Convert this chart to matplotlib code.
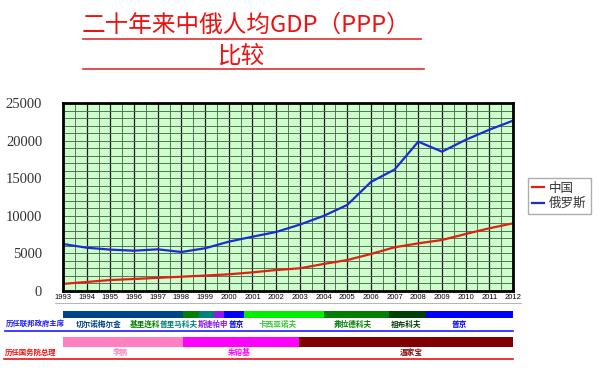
import matplotlib
matplotlib.use("Agg")
import matplotlib.pyplot as plt
from matplotlib.lines import Line2D
from matplotlib.ticker import MultipleLocator

plt.rcParams['font.family'] = ['Noto Sans CJK SC', 'DejaVu Sans']

# data
years = list(range(1993, 2013))
china = [950, 1200, 1460, 1600, 1750, 1900, 2050, 2220, 2480, 2790,
         3020, 3590, 4120, 4920, 5810, 6340, 6780, 7580, 8340, 9000]
russia = [6250, 5760, 5500, 5360, 5540, 5190, 5680, 6560, 7220, 7850,
          8830, 9980, 11440, 14500, 16150, 19860, 18530, 20100, 21450, 22650]

# russian heads of government (start year, bar colour, label x)
ru_names = ["切尔诺梅尔金", "基里连科", "普里马科夫", "斯捷帕申", "普京",
            "卡西亚诺夫", "弗拉德科夫", "祖布科夫", "普京"]
ru_start = [1993, 1998.07, 1998.76, 1999.38, 1999.8, 2000.65, 2004.0, 2006.78, 2008.33]
ru_colors = ['#004488', '#008000', '#008080', '#8a1cf0', '#0000ff',
             '#00ee00', '#008000', '#004000', '#0000ff']
ru_text_colors = ['#004488', '#008000', '#008080', '#8a1cf0', '#0000ff',
                  '#33cc33', '#008000', '#004000', '#0000ff']
ru_label_x = [1994.5, 1996.46, 1997.9, 1999.33, 2000.33, 2002.08, 2005.25, 2007.5, 2009.72]

# chinese premiers
cn_names = ["李鹏", "朱镕基", "温家宝"]
cn_start = [1993, 1998.07, 2002.97]
cn_colors = ['#ff80c0', '#ff00ff', '#800000']
cn_label_x = [1995.44, 2000.43, 2007.7]


def fx(x):
    return x / 600.0


def fy(y):
    return 1 - y / 370.0


fig = plt.figure(figsize=(6, 3.7), dpi=100)

# title + underlines
fig.text(fx(246), fy(25), "二十年来中俄人均GDP（PPP）", fontsize=17, color='#ee1111',
         ha='center', va='center', weight='medium')
fig.text(fx(242), fy(56), "比较", fontsize=17, color='#ee1111', ha='center', va='center',
         weight='medium')
fig.add_artist(Line2D([fx(83), fx(421)], [fy(39), fy(39)], color='#e03030', lw=1.2))
fig.add_artist(Line2D([fx(83), fx(424)], [fy(68.5), fy(68.5)], color='#e03030', lw=1.2))

# main chart
ax = fig.add_axes([fx(63), fy(291), fx(513) - fx(63), fy(103) - fy(291)])
ax.set_facecolor('#ccffcc')
ax.plot(years, china, color='#dd2211', lw=1.6, label='中国')
ax.plot(years, russia, color='#1a2ed0', lw=1.6, label='俄罗斯')
ax.set_xlim(1993, 2012)
ax.set_ylim(0, 25000)

ax.set_xticks(years)
ax.set_xticklabels([str(y) for y in years], fontsize=5.5, family='Liberation Sans')
ax.xaxis.set_minor_locator(MultipleLocator(0.5))
ax.yaxis.set_major_locator(MultipleLocator(5000))
ax.yaxis.set_minor_locator(MultipleLocator(1000))
for lab in ax.get_yticklabels():
    lab.set_family('Liberation Serif')
    lab.set_fontsize(10.5)
    lab.set_color('#333333')
ax.tick_params(axis='y', which='both', length=0, pad=15)
ax.tick_params(axis='x', which='both', length=0, pad=2)

ax.grid(which='major', axis='x', color='#1a1a1a', lw=0.9)
ax.grid(which='minor', axis='x', color='#4f6a4f', lw=0.65)
ax.grid(which='both', axis='y', color='#4f6a4f', lw=0.65)
ax.set_axisbelow(True)
for s in ax.spines.values():
    s.set_linewidth(2)
    s.set_color('black')

fig.legend(loc='upper left', bbox_to_anchor=(fx(528), fy(178)), borderaxespad=0,
           fontsize=9, handlelength=1.0, handletextpad=0.4, fancybox=False,
           edgecolor='#999999', labelcolor='#333333', borderpad=0.3, labelspacing=0.2)

# gray rule under the year labels
fig.add_artist(Line2D([fx(55), fx(521)], [fy(302.5), fy(302.5)], color='#aaaaaa', lw=0.6))

# leaders timeline strip, y in pixel units
tl = fig.add_axes([fx(63), fy(362), fx(513) - fx(63), fy(305) - fy(362)])
tl.set_xlim(1993, 2012)
tl.set_ylim(362, 305)
tl.axis('off')

ru_end = ru_start[1:] + [2012]
for s, e, c in zip(ru_start, ru_end, ru_colors):
    tl.barh(314.5, e - s, left=s, height=7.5, color=c, lw=0)
for name, x, c in zip(ru_names, ru_label_x, ru_text_colors):
    tl.text(x, 324, name, fontsize=5.5, color=c, ha='center', va='center', weight='bold')

cn_end = cn_start[1:] + [2012]
for s, e, c in zip(cn_start, cn_end, cn_colors):
    tl.barh(342, e - s, left=s, height=10, color=c, lw=0)
for name, x, c in zip(cn_names, cn_label_x, cn_colors):
    tl.text(x, 352, name, fontsize=5.5, color=c, ha='center', va='center', weight='bold')

fig.text(fx(6), fy(323.5), "历任联邦政府主席", fontsize=5.3, color='#1a1aff',
         ha='left', va='center', weight='bold')
fig.add_artist(Line2D([fx(5), fx(513)], [fy(330.5), fy(330.5)], color='#1a1aff', lw=1.2))
fig.text(fx(5), fy(352), "历任国务院总理", fontsize=5.3, color='#ee1111',
         ha='left', va='center', weight='bold')
fig.add_artist(Line2D([fx(4), fx(513)], [fy(359), fy(359)], color='#ee1111', lw=1.2))

fig.savefig("out.png", dpi=100)
